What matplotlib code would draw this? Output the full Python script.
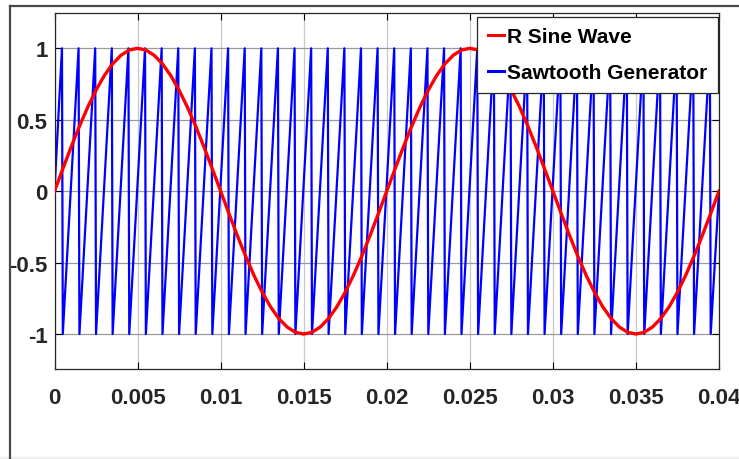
import numpy as np
import matplotlib.pyplot as plt
from matplotlib.lines import Line2D
from matplotlib.patches import Rectangle

sine_t = [i * 0.0005 for i in range(81)]
sine_half = [0.0, 0.156, 0.309, 0.454, 0.588, 0.707, 0.809, 0.891, 0.951, 0.988,
             1.0, 0.988, 0.951, 0.891, 0.809, 0.707, 0.588, 0.454, 0.309, 0.156]
sine_y = (sine_half + [-v for v in sine_half]) * 2 + [0.0]

# sawtooth: times where each tooth drops from +1 to -1
saw_resets = [0.0005, 0.0015, 0.0025, 0.0035, 0.0045, 0.0055, 0.0065, 0.0075,
              0.0085, 0.0095, 0.0105, 0.0115, 0.0125, 0.0135, 0.0145, 0.0155,
              0.0165, 0.0175, 0.0185, 0.0195, 0.0205, 0.0215, 0.0225, 0.0235,
              0.0245, 0.0255, 0.0265, 0.0275, 0.0285, 0.0295, 0.0305, 0.0315,
              0.0325, 0.0335, 0.0345, 0.0355, 0.0365, 0.0375, 0.0385, 0.0395]
saw_start = 0.0
saw_end = 0.0
saw_top = 1.0
saw_bottom = -1.0
drop_time = 0.00005

xticks = [0, 0.005, 0.01, 0.015, 0.02, 0.025, 0.03, 0.035, 0.04]
xtick_labels = ["0", "0.005", "0.01", "0.015", "0.02", "0.025", "0.03", "0.035", "0.04"]
yticks = [-1, -0.5, 0, 0.5, 1]
ytick_labels = ["-1", "-0.5", "0", "0.5", "1"]

saw_t = [0.0]
saw_y = [saw_start]
for r in saw_resets:
    saw_t += [r - drop_time, r]
    saw_y += [saw_top, saw_bottom]
saw_t.append(0.04)
saw_y.append(saw_end)

plt.rcParams['font.family'] = ['Liberation Sans', 'DejaVu Sans']

fig = plt.figure(figsize=(7.39, 4.60), dpi=100)
W, H = 739, 460
ax_l, ax_r, ax_t, ax_b = 54.5, 719, 14.3, 370
ax = fig.add_axes([ax_l / W, 1 - ax_b / H, (ax_r - ax_l) / W, (ax_b - ax_t) / H])

# window frame around the figure
fig.add_artist(Line2D([10 / W, 1], [1 - 6.5 / H, 1 - 6.5 / H], color="#4a4a4a", lw=1.6))
fig.add_artist(Line2D([10 / W, 10 / W], [0, 1 - 6.5 / H], color="#4a4a4a", lw=1.6))
fig.add_artist(Rectangle((0, 0), 1, 2.5 / H, color="#eeeeee", transform=fig.transFigure))

l1, = ax.plot(sine_t, sine_y, color="#ff0000", lw=2.4, zorder=3)
l2, = ax.plot(saw_t, saw_y, color="#0000ff", lw=1.6, zorder=2)

ax.set_xlim(0, 0.04)
ax.set_ylim(-1.245, 1.245)
ax.set_xticks(xticks)
ax.set_xticklabels(xtick_labels)
ax.set_yticks(yticks)
ax.set_yticklabels(ytick_labels)
ax.tick_params(direction="in", top=True, right=True, length=5, width=0.8,
               labelsize=16)
ax.tick_params(axis="y", pad=5)
ax.tick_params(axis="x", pad=13)
for lab in ax.get_xticklabels() + ax.get_yticklabels():
    lab.set_fontweight("bold")
    lab.set_color("#262626")
ax.xaxis.grid(True, color="#c8c8c8", lw=0.9)
ax.yaxis.grid(True, color="#9a9a9a", lw=0.9)
ax.set_axisbelow(True)
for s in ax.spines.values():
    s.set_color("#262626")
    s.set_linewidth(0.9)

anchor = ((718 - ax_l) / (ax_r - ax_l), (ax_b - 18) / (ax_b - ax_t))
leg = ax.legend([l1, l2], ["R Sine Wave", "Sawtooth Generator"], loc="upper right",
                bbox_to_anchor=anchor, prop={"weight": "bold", "size": 15},
                handlelength=0.8, handletextpad=0.15,
                borderpad=0.5, borderaxespad=0, labelspacing=0.8,
                fancybox=False, framealpha=1)
leg.get_frame().set_edgecolor("#262626")
leg.get_frame().set_linewidth(0.9)
for line in leg.get_lines():
    line.set_linewidth(2.2)

fig.savefig("out.png", dpi=100)
